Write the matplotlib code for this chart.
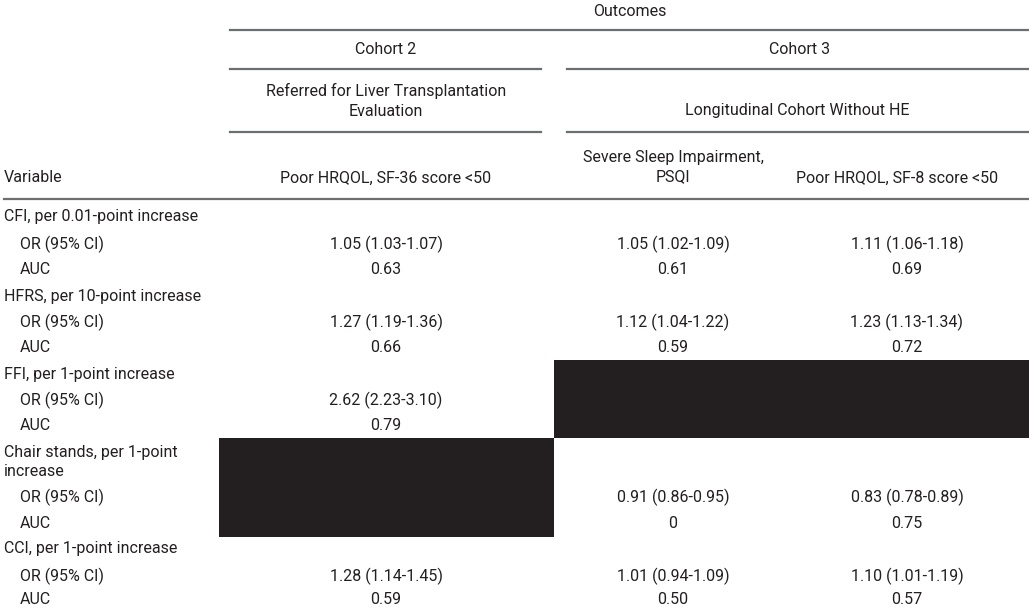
import matplotlib.pyplot as plt
from matplotlib.patches import Rectangle

# table content
row_labels = ["CFI, per 0.01-point increase", "OR (95% CI)", "AUC",
              "HFRS, per 10-point increase", "OR (95% CI)", "AUC",
              "FFI, per 1-point increase", "OR (95% CI)", "AUC",
              "Chair stands, per 1-point\nincrease", "OR (95% CI)", "AUC",
              "CCI, per 1-point increase", "OR (95% CI)", "AUC"]
indented = [False, True, True, False, True, True, False, True, True,
            False, True, True, False, True, True]
col_sf36 = ["", "1.05 (1.03-1.07)", "0.63", "", "1.27 (1.19-1.36)", "0.66",
            "", "2.62 (2.23-3.10)", "0.79", "", "", "", "", "1.28 (1.14-1.45)", "0.59"]
col_psqi = ["", "1.05 (1.02-1.09)", "0.61", "", "1.12 (1.04-1.22)", "0.59",
            "", "", "", "", "0.91 (0.86-0.95)", "0", "", "1.01 (0.94-1.09)", "0.50"]
col_sf8 = ["", "1.11 (1.06-1.18)", "0.69", "", "1.23 (1.13-1.34)", "0.72",
           "", "", "", "", "0.83 (0.78-0.89)", "0.75", "", "1.10 (1.01-1.19)", "0.57"]
row_y = [217, 244, 270, 296, 322, 348, 374, 400, 426, 462, 497, 523, 549, 576, 600]

plt.rcParams['font.family'] = ['Liberation Sans Narrow', 'Roboto', 'DejaVu Sans']
tc = '#231f20'
fs = 11.5

fig = plt.figure(figsize=(10.29, 6.11), dpi=100)
ax = fig.add_axes([0, 0, 1, 1])
ax.set_xlim(0, 1029)
ax.set_ylim(611, 0)
ax.axis('off')

def txt(x, y, s, ha='center'):
    ax.text(x, y, s, ha=ha, va='center', fontsize=fs, color=tc, linespacing=1.35)

lc = '#6d6e71'
# header lines
ax.plot([230, 1029], [30, 30], color=lc, lw=1.6)
for yy in (69, 132):
    ax.plot([230, 541], [yy, yy], color=lc, lw=1.6)
    ax.plot([567, 1029], [yy, yy], color=lc, lw=1.6)
ax.plot([4, 1029], [199, 199], color=lc, lw=1.6)

txt(630, 12, "Outcomes")
txt(386, 50, "Cohort 2")
txt(800, 50, "Cohort 3")
txt(386, 101, "Referred for Liver Transplantation\nEvaluation")
txt(797, 110, "Longitudinal Cohort Without HE")
txt(4, 178, "Variable", ha='left')
txt(386, 178, "Poor HRQOL, SF-36 score <50")
txt(673, 167, "Severe Sleep Impairment,\nPSQI")
txt(897, 178, "Poor HRQOL, SF-8 score <50")

# blacked-out cells
ax.add_patch(Rectangle((554, 360), 475, 78, color='#231f20', lw=0))
ax.add_patch(Rectangle((219, 438), 335, 99, color='#231f20', lw=0))

for lab, ind, a, b, c, y in zip(row_labels, indented, col_sf36, col_psqi, col_sf8, row_y):
    txt(20 if ind else 4, y, lab, ha='left')
    txt(386, y, a)
    txt(673, y, b)
    txt(907, y, c)

fig.savefig('out.png', dpi=100)
